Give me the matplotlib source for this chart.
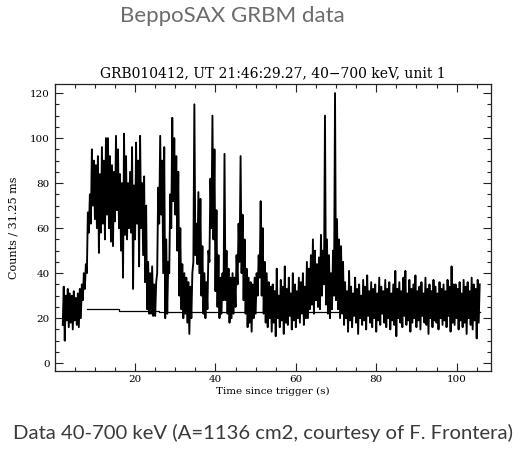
import numpy as np
import matplotlib
matplotlib.use("Agg")
import matplotlib.pyplot as plt
from matplotlib.ticker import MultipleLocator

# light curve: 0.5 s bins starting at t=2 s,
# low and high edge of the noisy band in each bin
t_start = 2.0
t_step = 0.5
lo = [17, 10, 19, 16, 18, 15, 19, 17, 16, 20,        # 2-7 s
      28, 33, 40, 58, 62, 70, 64, 60, 49, 58,        # 7-12 s
      62, 55, 66, 60, 54, 52, 63, 68, 60, 50,        # 12-17 s
      38, 57, 55, 60, 58, 33, 55, 62, 43, 60,        # 17-22 s
      48, 36, 24, 22, 22, 21, 21, 40, 62, 66,        # 22-27 s
      40, 20, 22, 40, 60, 72, 66, 50, 30, 24,        # 27-32 s
      20, 22, 18, 13, 20, 45, 48, 44, 40, 30,        # 32-37 s
      22, 20, 24, 45, 60, 55, 32, 25, 20, 22,        # 37-42 s
      28, 28, 22, 18, 20, 22, 25, 35, 45, 40,        # 42-47 s
      28, 22, 16, 18, 14, 20, 22, 30, 38, 30,        # 47-52 s
      22, 18, 16, 20,                                # 52-54 s
      14, 18, 12, 20, 16, 19, 13, 18, 17, 21,        # 54-59 s
      15, 19, 16, 20, 18, 22, 17, 20,                # 59-63 s
      20, 24, 26, 22, 28, 25, 24, 30, 35, 26,        # 63-68 s
      22, 20, 24, 30, 28, 24, 20, 22,                # 68-72 s
      17, 20, 14, 19, 16, 21, 18, 13, 20, 17,
      19, 15, 21, 18, 16, 20, 14, 19, 17, 22,
      18, 16, 20, 15, 19, 17, 12, 20, 18, 16,
      21, 17, 19, 14, 18, 20, 16, 19, 15, 21,
      18, 17, 13, 20, 16, 19, 18, 15, 20, 17,
      19, 16, 21, 14, 18, 17, 20, 15, 19, 16,
      18, 13, 20, 17, 15, 19, 11, 18]
hi = [34, 30, 33, 31, 30, 32, 29, 31, 33, 35,
      40, 44, 67, 75, 95, 90, 88, 92, 84, 96,
      90, 100, 100, 92, 88, 85, 101, 95, 84, 80,
      102, 92, 80, 85, 96, 79, 98, 90, 101, 80,
      83, 70, 45, 40, 43, 35, 36, 78, 101, 90,
      96, 55, 45, 75, 109, 100, 92, 85, 60, 44,
      40, 38, 36, 34, 40, 115, 62, 76, 73, 52,
      40, 36, 50, 82, 110, 95, 68, 48, 38, 40,
      93, 50, 42, 38, 40, 38, 48, 62, 92, 66,
      55, 42, 38, 36, 35, 38, 40, 48, 72, 60,
      45, 40, 36, 34,
      35, 32, 42, 30, 37, 34, 43, 33, 38, 31,
      40, 35, 32, 38, 36, 40, 34, 45,
      42, 48, 55, 50, 44, 47, 57, 50, 110, 55,
      48, 40, 50, 120, 64, 55, 52, 45,
      36, 32, 41, 34, 31, 38, 33, 35, 30, 37,
      34, 39, 32, 36, 33, 35, 31, 38, 34, 32,
      37, 33, 36, 31, 35, 41, 33, 36, 32, 38,
      41, 31, 37, 33, 35, 39, 32, 34, 36, 31,
      38, 33, 35, 32, 37, 34, 31, 36, 33, 35,
      32, 37, 34, 43, 35, 35, 33, 36, 31, 37,
      34, 36, 32, 38, 35, 33, 37, 35]

# fitted background level (step line)
bkg_t = [8.0, 16.0, 26.0, 105.8]
bkg_c = [24.1, 23.4, 22.7, 22.7]

title = "GRB010412, UT 21:46:29.27, 40\u2212700 keV, unit 1"

# interleave lo / hi so the line zig-zags through the band
n = len(lo)
t_lo = t_start + t_step * np.arange(n)
t_all = np.empty(2 * n)
c_all = np.empty(2 * n)
t_all[0::2] = t_lo
t_all[1::2] = t_lo + t_step / 2
c_all[0::2] = lo
c_all[1::2] = hi

plt.rcParams['font.family'] = ['DejaVu Serif']
fig = plt.figure(figsize=(5.26, 4.57), dpi=100)
ax = fig.add_axes([0.104, 0.189, 0.829, 0.627])

ax.plot(t_all, c_all, color='black', lw=1.35)
ax.plot(bkg_t, bkg_c, color='black', lw=0.9, drawstyle='steps-post')

ax.set_xlim(0, 108.5)
ax.set_ylim(-3.3, 124)
ax.xaxis.set_major_locator(MultipleLocator(20))
ax.xaxis.set_minor_locator(MultipleLocator(5))
ax.yaxis.set_major_locator(MultipleLocator(20))
ax.yaxis.set_minor_locator(MultipleLocator(5))
ax.set_xticks([20, 40, 60, 80, 100])
ax.tick_params(which='both', direction='in', top=True, right=True,
               labelsize=7.5, color='#222222')
ax.tick_params(which='major', length=6, width=0.8)
ax.tick_params(which='minor', length=3, width=0.8)
for s in ax.spines.values():
    s.set_linewidth(0.9)
    s.set_color('#222222')

ax.set_xlabel('Time since trigger (s)', fontsize=7.5, labelpad=2)
ax.set_ylabel('Counts / 31.25 ms', fontsize=8, labelpad=8)
ax.set_title(title, fontsize=10, pad=5)

fig.text(0.441, 0.966, 'BeppoSAX GRBM data', family=['Lato', 'DejaVu Sans'],
         fontsize=16, color='#6b6b6b', ha='center', va='center')
fig.text(0.5, 0.053, 'Data 40-700 keV (A=1136 cm2, courtesy of F. Frontera)',
         family=['Lato', 'DejaVu Sans'], fontsize=14.6, color='#3a3a3a',
         ha='center', va='center')

fig.savefig('out.png', dpi=100)
